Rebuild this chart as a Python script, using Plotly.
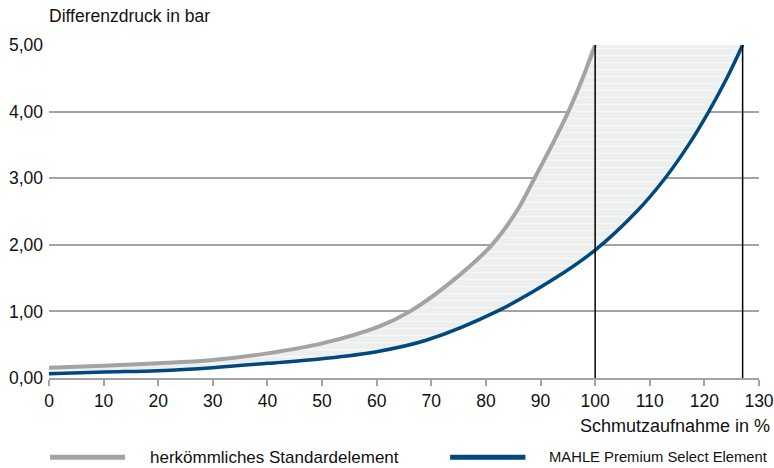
import plotly.graph_objects as go

# Data
std_x = [0, 10, 20, 30, 40, 50, 60.6, 66.1, 74.5, 81.1, 85.6, 88.9, 92.1, 95.1, 97.7, 100]
std_y = [0.155, 0.185, 0.22, 0.27, 0.37, 0.52, 0.78, 1.00, 1.50, 2.00, 2.50, 3.00, 3.50, 4.00, 4.50, 5.00]
prem_x = [0, 10, 20, 30, 40, 50, 60, 69.2, 82.0, 92.7, 100, 107.6, 112.8, 117.1, 120.8, 124.1, 127]
prem_y = [0.065, 0.09, 0.11, 0.155, 0.22, 0.29, 0.395, 0.57, 1.00, 1.50, 1.92, 2.50, 3.00, 3.50, 4.00, 4.50, 5.00]
x_ticks = list(range(0, 131, 10))
y_ticks = [0, 1, 2, 3, 4, 5]
names = ["herkömmliches Standardelement", "MAHLE Premium Select Element"]

GRAY = "#a3a3a3"
BLUE = "#00497f"
FONT = "Liberation Sans, Arial, sans-serif"
FS = 17.5
SM = 1.0

fig = go.Figure()

# Fill polygon between curves
poly_x = std_x + prem_x[::-1]
poly_y = std_y + prem_y[::-1]
fig.add_trace(go.Scatter(
    x=poly_x, y=poly_y, mode="none", fill="toself",
    line=dict(shape="spline", smoothing=SM),
    fillpattern=dict(shape="-", size=7, solidity=0.18, fgcolor="#ffffff", bgcolor="#edefee"),
    fillcolor="#edefee", hoverinfo="skip", showlegend=False))

fig.add_trace(go.Scatter(x=std_x, y=std_y, mode="lines", name=names[0],
                         line=dict(color=GRAY, width=4, shape="spline", smoothing=SM),
                         cliponaxis=False, showlegend=False))
fig.add_trace(go.Scatter(x=prem_x, y=prem_y, mode="lines", name=names[1],
                         line=dict(color=BLUE, width=3.5, shape="spline", smoothing=SM),
                         cliponaxis=False, showlegend=False))

# Vertical lines at the end points
for xe in (std_x[-1], prem_x[-1]):
    fig.add_shape(type="line", x0=xe, x1=xe, y0=0, y1=max(y_ticks),
                  line=dict(color="#000000", width=1.5), layer="above")

# Manual legend
LY = -0.238
fig.add_shape(type="line", xref="paper", yref="paper", x0=0.0014, x1=0.107, y0=LY, y1=LY,
              line=dict(color=GRAY, width=5))
fig.add_annotation(xref="paper", yref="paper", x=0.139, y=LY, text=names[0], showarrow=False,
                   xanchor="left", yanchor="middle", font=dict(size=17, color="#111111", family=FONT))
fig.add_shape(type="line", xref="paper", yref="paper", x0=0.565, x1=0.671, y0=LY, y1=LY,
              line=dict(color=BLUE, width=5))
fig.add_annotation(xref="paper", yref="paper", x=0.701, y=LY, text=names[1], showarrow=False,
                   xanchor="left", yanchor="middle", font=dict(size=14.8, color="#111111", family=FONT))

# Axis titles
fig.add_annotation(xref="paper", yref="paper", x=-0.003, y=1.087, text="Differenzdruck in bar",
                   showarrow=False, xanchor="left", yanchor="middle",
                   font=dict(size=FS, color="#111111", family=FONT))
fig.add_annotation(xref="paper", yref="paper", x=1.018, y=-0.144, text="Schmutzaufnahme in %",
                   showarrow=False, xanchor="right", yanchor="middle",
                   font=dict(size=18, color="#111111", family=FONT))

fig.update_layout(
    width=774, height=468,
    margin=dict(l=49, r=15, t=45, b=90, autoexpand=False),
    paper_bgcolor="white", plot_bgcolor="white",
    font=dict(family=FONT, size=FS, color="#111111"),
    separators=",.",
    showlegend=False,
)
fig.update_xaxes(range=[0, 130], tickvals=x_ticks, showgrid=False, zeroline=False,
                 showline=True, linecolor=GRAY, linewidth=1.5, automargin=False,
                 ticks="outside", ticklen=6, tickcolor=GRAY, tickwidth=1.5, fixedrange=True)
fig.update_yaxes(range=[0, 5], tickvals=y_ticks, tickformat=".2f", showgrid=True,
                 gridcolor=GRAY, gridwidth=1.5, zeroline=False, showline=False, automargin=False,
                 ticks="", ticklabelstandoff=5, fixedrange=True)

fig.write_html("out.html", config={"displayModeBar": False},
               post_script="document.body.style.margin='0';")
